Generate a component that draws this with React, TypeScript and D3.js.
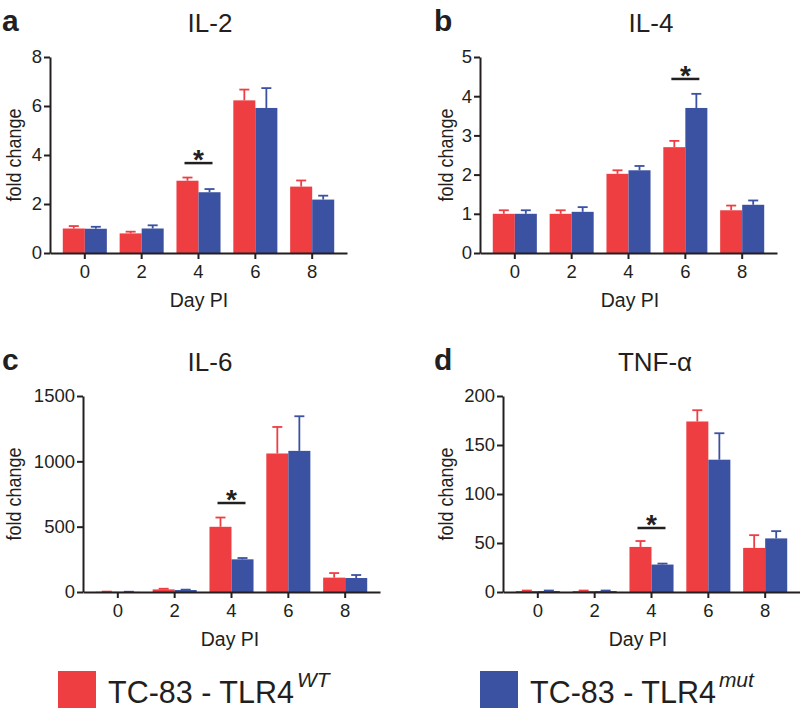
import { useRef, useEffect } from "react";
import * as d3 from "d3";

// days post infection
const days = ["0", "2", "4", "6", "8"];

// IL-2 fold change (mean, SEM)
const il2WT = [1.0, 0.8, 2.95, 6.23, 2.71];
const il2WTErr = [0.1, 0.07, 0.13, 0.44, 0.25];
const il2Mut = [0.99, 1.0, 2.48, 5.92, 2.18];
const il2MutErr = [0.08, 0.13, 0.13, 0.81, 0.16];

// IL-4
const il4WT = [1.0, 1.0, 2.02, 2.7, 1.09];
const il4WTErr = [0.09, 0.09, 0.09, 0.16, 0.12];
const il4Mut = [1.0, 1.05, 2.11, 3.7, 1.23];
const il4MutErr = [0.09, 0.12, 0.11, 0.36, 0.11];

// IL-6
const il6WT = [2, 20, 499, 1060, 110];
const il6WTErr = [1, 5, 71, 203, 35];
const il6Mut = [1, 15, 250, 1080, 107];
const il6MutErr = [1, 3, 10, 265, 23];

// TNF-alpha
const tnfWT = [1, 1, 46, 174, 45];
const tnfWTErr = [0.5, 0.5, 6, 11.5, 13];
const tnfMut = [1, 1, 28, 135, 54.7];
const tnfMutErr = [0.5, 0.5, 1, 27, 7.4];

// y tick labels
const il2Ticks = [0, 2, 4, 6, 8];
const il4Ticks = [0, 1, 2, 3, 4, 5];
const il6Ticks = [0, 500, 1000, 1500];
const tnfTicks = [0, 50, 100, 150, 200];

const RED = "#ee3e42";
const BLUE = "#3b51a2";
const INK = "#231f20";
const FONT = "'Liberation Sans', Arial, Helvetica, sans-serif";

const PLOT_W = 297;
const PLOT_H = 196;

const panels = [
  { letter: "a", title: "IL-2", wt: il2WT, wtErr: il2WTErr, mut: il2Mut, mutErr: il2MutErr, ticks: il2Ticks, sigDay: "4", sigLevel: 3.67,
    left: 50, top: 57, titleX: 210, letterX: 2, labelX: 21, dayX: 199 },
  { letter: "b", title: "IL-4", wt: il4WT, wtErr: il4WTErr, mut: il4Mut, mutErr: il4MutErr, ticks: il4Ticks, sigDay: "6", sigLevel: 4.44,
    left: 480, top: 57, titleX: 651, letterX: 434, labelX: 453, dayX: 630 },
  { letter: "c", title: "IL-6", wt: il6WT, wtErr: il6WTErr, mut: il6Mut, mutErr: il6MutErr, ticks: il6Ticks, sigDay: "4", sigLevel: 681,
    left: 83, top: 396, titleX: 210, letterX: 2, labelX: 21, dayX: 230 },
  { letter: "d", title: "TNF-\u03b1", wt: tnfWT, wtErr: tnfWTErr, mut: tnfMut, mutErr: tnfMutErr, ticks: tnfTicks, sigDay: "4", sigLevel: 65.3,
    left: 503, top: 396, titleX: 655, letterX: 434, labelX: 453, dayX: 638 },
];

export default function App() {
  const svgRef = useRef<SVGSVGElement>(null);

  useEffect(() => {
    const svg = d3.select(svgRef.current);
    svg.selectAll("*").remove();
    svg.style("font-family", FONT);

    panels.forEach(p => {
      const g = svg.append("g");
      const x = d3.scaleBand().domain(days).range([p.left, p.left + PLOT_W]).padding(0.225);
      const xs = d3.scaleBand().domain(["wt", "mut"]).range([0, x.bandwidth()]);
      const y = d3.scaleLinear()
        .domain([0, p.ticks[p.ticks.length - 1]])
        .range([p.top + PLOT_H, p.top]);

      const rows = days.map((d, i) => [
        { day: d, key: "wt", v: p.wt[i], e: p.wtErr[i], color: RED },
        { day: d, key: "mut", v: p.mut[i], e: p.mutErr[i], color: BLUE },
      ]).flat();
      const mid = (d: { day: string; key: string }) => x(d.day)! + xs(d.key)! + xs.bandwidth() / 2;

      // error bars (upper only)
      const err = g.append("g").selectAll("g").data(rows).join("g")
        .attr("stroke", d => d.color)
        .attr("stroke-width", 1.8);
      err.append("line")
        .attr("x1", mid).attr("x2", mid)
        .attr("y1", d => y(d.v))
        .attr("y2", d => y(d.v + d.e));
      err.append("line")
        .attr("x1", d => mid(d) - 5)
        .attr("x2", d => mid(d) + 5)
        .attr("y1", d => y(d.v + d.e))
        .attr("y2", d => y(d.v + d.e));

      // bars
      g.append("g").selectAll("rect").data(rows).join("rect")
        .attr("x", d => x(d.day)! + xs(d.key)!)
        .attr("width", xs.bandwidth())
        .attr("y", d => y(d.v))
        .attr("height", d => y(0) - y(d.v))
        .attr("fill", d => d.color);

      // axes
      const yAxis = g.append("g")
        .attr("transform", `translate(${p.left},0)`)
        .call(d3.axisLeft(y).tickValues(p.ticks).tickFormat(d3.format("d"))
          .tickSize(6).tickSizeOuter(0).tickPadding(2));
      const xAxis = g.append("g")
        .attr("transform", `translate(0,${p.top + PLOT_H})`)
        .call(d3.axisBottom(x).tickSize(6).tickSizeOuter(0).tickPadding(6));
      [yAxis, xAxis].forEach(a => {
        a.attr("font-family", FONT).attr("font-size", 18.5);
        a.selectAll("path, line").attr("stroke", INK).attr("stroke-width", 2);
        a.selectAll("text").attr("fill", INK);
      });

      // significance marker
      const cx = x(p.sigDay)! + x.bandwidth() / 2;
      g.append("line")
        .attr("x1", cx - 14).attr("x2", cx + 14)
        .attr("y1", y(p.sigLevel)).attr("y2", y(p.sigLevel))
        .attr("stroke", INK).attr("stroke-width", 2.5);
      g.append("text")
        .attr("x", cx).attr("y", y(p.sigLevel) + 6)
        .attr("text-anchor", "middle")
        .attr("font-size", 28).attr("font-weight", 700)
        .attr("fill", INK)
        .text("*");

      // titles and labels
      g.append("text")
        .attr("x", p.titleX).attr("y", p.top - 25)
        .attr("text-anchor", "middle")
        .attr("font-size", 26).attr("fill", INK)
        .text(p.title);
      g.append("text")
        .attr("x", p.letterX).attr("y", p.top - 26)
        .attr("font-size", 30).attr("font-weight", 700).attr("fill", INK)
        .text(p.letter);
      g.append("text")
        .attr("transform", `translate(${p.labelX},${p.top + PLOT_H / 2}) rotate(-90)`)
        .attr("text-anchor", "middle")
        .attr("font-size", 19.5).attr("fill", INK)
        .attr("textLength", 93).attr("lengthAdjust", "spacingAndGlyphs")
        .text("fold change");
      g.append("text")
        .attr("x", p.dayX).attr("y", p.top + PLOT_H + 54)
        .attr("text-anchor", "middle")
        .attr("font-size", 19.5).attr("fill", INK)
        .text("Day PI");
    });

    // legend
    const legend = [
      { label: "TC-83 - TLR4", sup: "WT", color: RED, x: 58 },
      { label: "TC-83 - TLR4", sup: "mut", color: BLUE, x: 480 },
    ];
    const lg = svg.append("g").selectAll("g").data(legend).join("g")
      .attr("transform", d => `translate(${d.x},671)`);
    lg.append("rect").attr("width", 38).attr("height", 37).attr("fill", d => d.color);
    const t = lg.append("text")
      .attr("x", 50).attr("y", 32)
      .attr("font-size", 30.5).attr("fill", INK);
    t.append("tspan").text(d => d.label);
    t.append("tspan")
      .attr("dx", 3).attr("dy", -16)
      .attr("font-size", 21).attr("font-style", "italic")
      .text(d => d.sup);
  }, []);

  return (
    <svg
      ref={svgRef}
      width={800}
      height={713}
      style={{ position: "absolute", left: 0, top: 0, background: "#fff" }}
    />
  );
}
